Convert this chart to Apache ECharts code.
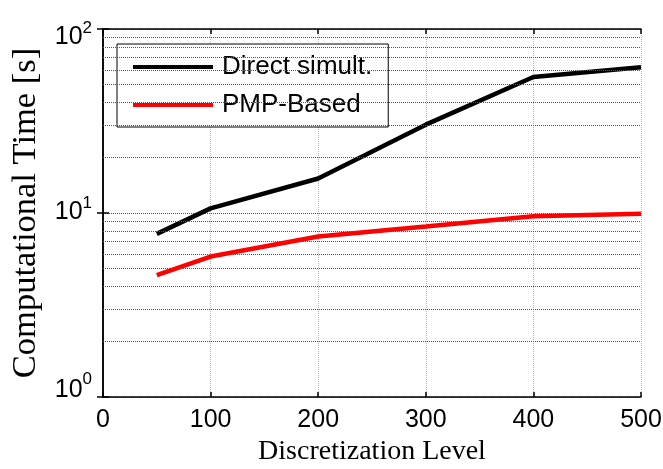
<!DOCTYPE html>
<html>
<head>
<meta charset="utf-8">
<script src="https://cdn.jsdelivr.net/npm/echarts@6/dist/echarts.min.js"></script>
<style>html,body{margin:0;padding:0;background:#fff}#c{width:663px;height:469px}</style>
</head>
<body>
<div id="c"></div>
<script>
const xValues = [50, 100, 200, 300, 400, 500];
const directSimult = [7.7, 10.6, 15.4, 30.2, 54.8, 62];
const pmpBased = [4.6, 5.8, 7.45, 8.45, 9.6, 9.9];
const minorGridValues = [2, 3, 4, 5, 6, 7, 8, 9, 20, 30, 40, 50, 60, 70, 80, 90];
const seriesNames = ['Direct simult.', 'PMP-Based'];
const xTitle = 'Discretization Level';
const yTitle = 'Computational Time [s]';

const chart = echarts.init(document.getElementById('c'));
const axisLineStyle = { color: '#000', width: 1.5 };
const sans = 'Liberation Sans';
const serif = 'Liberation Serif';

function base(pt, pb) { return { fontSize: 25, fontFamily: sans, color: '#000', padding: [pt, 0, pb, 0] }; }
function sup(pt, pb) { return { fontSize: 17, fontFamily: sans, color: '#000', padding: [pt, 0, pb, 0] }; }

chart.setOption({
  animation: false,
  backgroundColor: '#fff',
  grid: { left: 103, right: 22, top: 29, bottom: 72, show: false, containLabel: false, outerBoundsMode: 'none' },
  legend: {
    orient: 'vertical', left: 117, top: 44,
    backgroundColor: '#fff', borderColor: '#000', borderWidth: 1,
    padding: [10, 16, 9, 16], itemGap: 12,
    itemWidth: 80, itemHeight: 4, icon: 'rect',
    textStyle: { fontSize: 26, fontFamily: sans, color: '#000', padding: [0, 0, 0, 4] },
    data: seriesNames
  },
  xAxis: [{
    type: 'value', min: 0, max: 500, interval: 100, position: 'bottom',
    axisLine: { lineStyle: axisLineStyle },
    axisTick: { inside: true, length: 5, lineStyle: { color: '#000', width: 1.5 } },
    axisLabel: { fontSize: 25, fontFamily: sans, color: '#000', margin: 11 },
    splitLine: { show: true, lineStyle: { color: '#b4b4b4', type: 'dotted', width: 1 } },
    name: xTitle, nameLocation: 'middle', nameGap: 40,
    nameTextStyle: { fontFamily: serif, fontSize: 28, color: '#000' }
  }, {
    type: 'value', min: 0, max: 500, interval: 100, position: 'top',
    axisLine: { lineStyle: axisLineStyle },
    axisTick: { inside: true, length: 5, lineStyle: { color: '#000', width: 1.5 } },
    axisLabel: { show: false }, splitLine: { show: false }
  }],
  yAxis: [{
    type: 'log', logBase: 10, min: 1, max: 100,
    axisLine: { lineStyle: axisLineStyle },
    axisTick: { inside: true, length: 6, lineStyle: { color: '#000', width: 1.5 } },
    axisLabel: {
      margin: 11, color: '#000',
      formatter: function (v) {
        const e = Math.round(Math.log10(v));
        return '{b' + e + '|10}{s' + e + '|' + e + '}';
      },
      rich: {
        b0: base(0, 14), s0: sup(0, 36),
        b1: base(0, 2), s1: sup(0, 20),
        b2: base(16, 0), s2: sup(0, 2)
      }
    },
    splitLine: { show: true, lineStyle: { color: '#555', type: 'dotted', width: 1 } },
    name: yTitle, nameLocation: 'middle', nameGap: 51,
    nameTextStyle: { fontFamily: serif, fontSize: 34.5, color: '#000' }
  }, {
    type: 'log', logBase: 10, min: 1, max: 100, position: 'right',
    axisLine: { lineStyle: axisLineStyle },
    axisTick: { inside: true, length: 6, lineStyle: { color: '#000', width: 1.5 } },
    axisLabel: { show: false }, splitLine: { show: false }
  }],
  series: [{
    name: 'minor-grid', type: 'line', data: [], z: 1, silent: true,
    markLine: {
      silent: true, symbol: 'none', label: { show: false }, animation: false,
      lineStyle: { color: '#555', type: 'dotted', width: 1 },
      data: minorGridValues.map(v => ({ yAxis: v }))
    }
  }, {
    name: seriesNames[0], type: 'line', z: 3, symbol: 'none',
    color: '#000',
    lineStyle: { color: '#000', width: 4.5 },
    data: xValues.map((x, i) => [x, directSimult[i]])
  }, {
    name: seriesNames[1], type: 'line', z: 3, symbol: 'none',
    color: '#ff0000',
    lineStyle: { color: '#ff0000', width: 4.5 },
    data: xValues.map((x, i) => [x, pmpBased[i]])
  }]
});
</script>
</body>
</html>
